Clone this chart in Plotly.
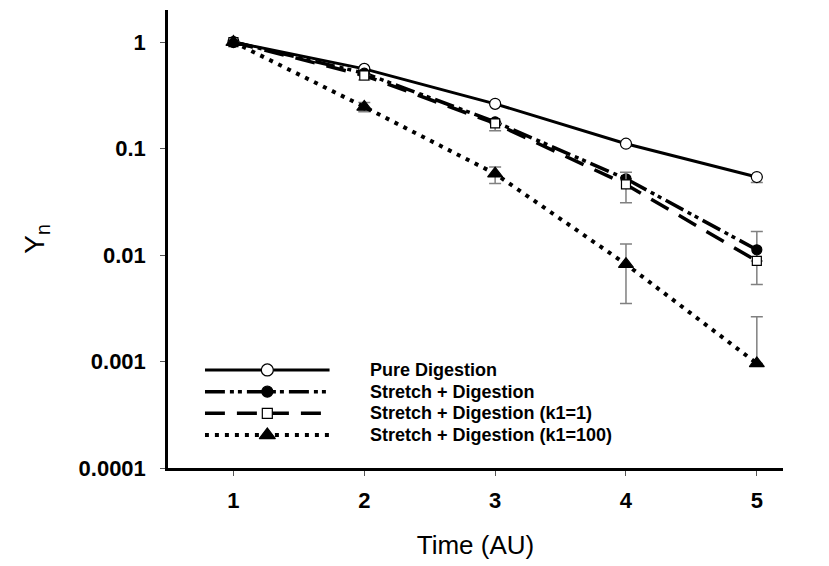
import plotly.graph_objects as go

time = [1, 2, 3, 4, 5]
pure = [1.0, 0.56, 0.263, 0.111, 0.054]
stretch = [1.0, 0.51, 0.178, 0.052, 0.0112]
stretch_k1 = [1.0, 0.485, 0.172, 0.046, 0.0088]
stretch_k100 = [1.0, 0.246, 0.058, 0.0082, 0.00096]

pure_err_plus = [0, 0, 0, 0, 0]
pure_err_minus = [0, 0, 0, 0, 0.006]
stretch_err_plus = [0, 0, 0, 0, 0.0054]
stretch_err_minus = [0, 0, 0, 0, 0.0059]
k1_err_plus = [0, 0, 0, 0.014, 0]
k1_err_minus = [0, 0.045, 0.025, 0.015, 0]
k100_err_plus = [0, 0.025, 0.009, 0.0045, 0.00167]
k100_err_minus = [0, 0.025, 0.011, 0.0047, 0]

labels = ["Pure Digestion", "Stretch + Digestion",
          "Stretch + Digestion (k1=1)", "Stretch + Digestion (k1=100)"]
x_ticks = [1, 2, 3, 4, 5]
y_ticks = [0.0001, 0.001, 0.01, 0.1, 1]
y_ticktext = ["0.0001", "0.001", "0.01", "0.1", "1"]

FONT = "Liberation Sans, Arial, sans-serif"
ERR_COLOR = "#808080"

styles = [
    dict(dash="solid", symbol="circle", fill="white", size=11, lw=3),
    dict(dash="20px,5px,4px,4px,4px,5px", symbol="circle", fill="black", size=10, lw=3.5),
    dict(dash="20px,12px", symbol="square", fill="white", size=9, lw=3.5),
    dict(dash="4px,6px", symbol="triangle-up", fill="black", size=13, lw=4),
]
series = [pure, stretch, stretch_k1, stretch_k100]
errs = [(pure_err_plus, pure_err_minus), (stretch_err_plus, stretch_err_minus),
        (k1_err_plus, k1_err_minus), (k100_err_plus, k100_err_minus)]

fig = go.Figure()
for vals, st, (ep, em), name in zip(series, styles, errs, labels):
    fig.add_trace(go.Scatter(
        x=time, y=vals, name=name, mode="lines+markers", showlegend=False,
        line=dict(color="black", width=st["lw"], dash=st["dash"]),
        marker=dict(symbol=st["symbol"], size=st["size"], color=st["fill"],
                    line=dict(color="black", width=1.2)),
        error_y=dict(type="data", symmetric=False, array=ep, arrayminus=em,
                     color=ERR_COLOR, thickness=1.5, width=6),
    ))

# manual legend on a hidden helper axis
for i, (st, name) in enumerate(zip(styles, labels)):
    fig.add_trace(go.Scatter(
        x=[0, 1], y=[i, i], mode="lines", showlegend=False, cliponaxis=False,
        xaxis="x2", yaxis="y2", hoverinfo="skip",
        line=dict(color="black", width=st["lw"], dash=st["dash"]),
    ))
    fig.add_trace(go.Scatter(
        x=[0.5], y=[i], mode="markers", showlegend=False, cliponaxis=False,
        xaxis="x2", yaxis="y2", hoverinfo="skip",
        marker=dict(symbol=st["symbol"], size=st["size"] + 1, color=st["fill"],
                    line=dict(color="black", width=1.2)),
    ))
    fig.add_annotation(x=0.325, y=i, xref="paper", yref="y2", text=f"<b>{name}</b>",
                       showarrow=False, xanchor="left", yanchor="middle",
                       font=dict(family=FONT, size=18, color="black"))

fig.update_layout(
    width=829, height=566, paper_bgcolor="white", plot_bgcolor="white",
    margin=dict(l=168, r=46, t=10, b=98),
    font=dict(family=FONT, color="black"),
    xaxis=dict(range=[0.5, 5.2], tickvals=x_ticks, ticktext=[f"<b>{t}</b>" for t in x_ticks],
               showgrid=False, zeroline=False,
               showline=True, linecolor="black", linewidth=2.5,
               ticks="outside", ticklen=5, tickcolor="#555", tickwidth=1,
               ticklabelstandoff=6,
               tickfont=dict(family=FONT, size=22, color="black"),
               title=dict(text="Time (AU)", font=dict(family=FONT, size=26), standoff=24)),
    yaxis=dict(type="log", range=[-4, 0.301], tickvals=y_ticks, ticktext=[f"<b>{t}</b>" for t in y_ticktext],
               showgrid=False, zeroline=False, showline=True, linecolor="black", linewidth=2.5,
               ticks="outside", ticklen=5, tickcolor="#555", tickwidth=1,
               ticklabelstandoff=10,
               tickfont=dict(family=FONT, size=22, color="black"),
               title=dict(text="Y<sub>n</sub>", font=dict(family=FONT, size=28), standoff=26)),
    xaxis2=dict(domain=[0.06, 0.263], range=[0, 1], visible=False, anchor="y2"),
    yaxis2=dict(domain=[0.053, 0.233], range=[3.4, -0.4], visible=False, anchor="x2"),
)

fig.write_html("out.html")
